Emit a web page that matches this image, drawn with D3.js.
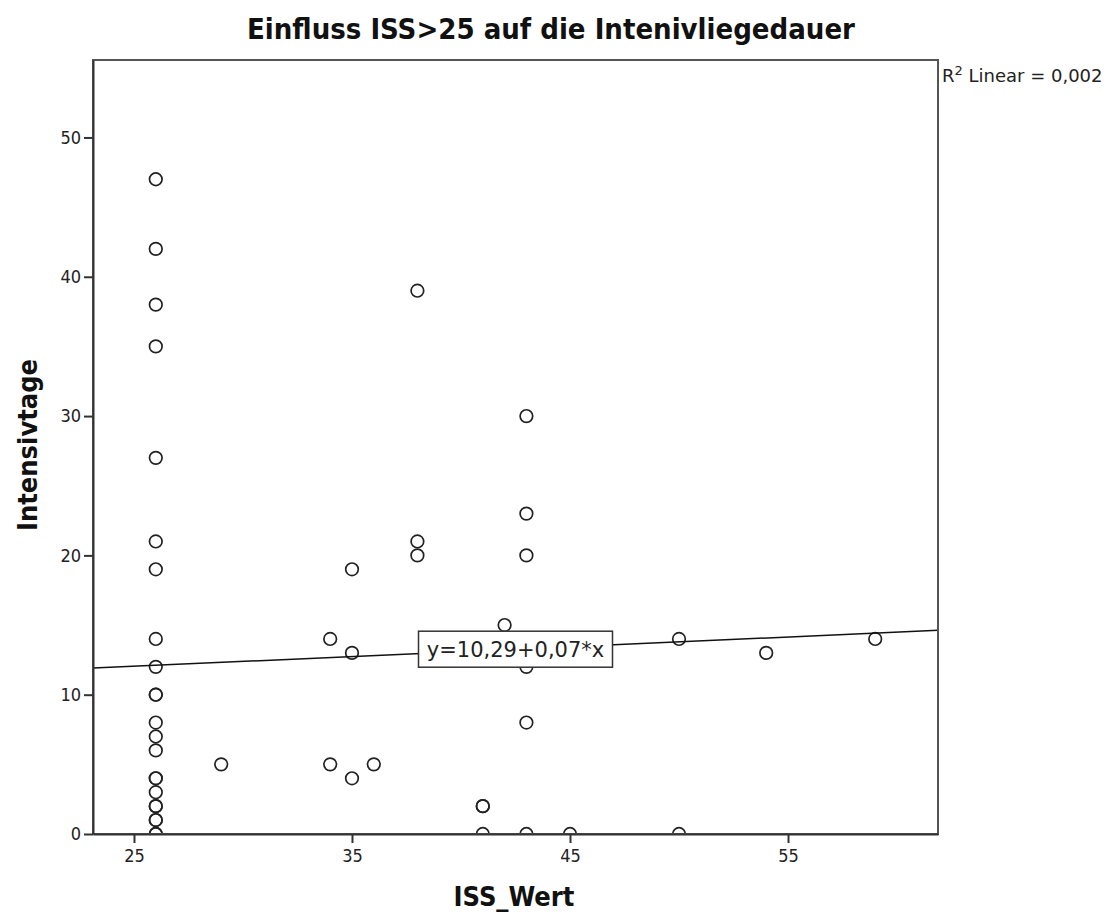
<!DOCTYPE html>
<html>
<head>
<meta charset="utf-8">
<script src="https://cdn.jsdelivr.net/npm/d3@7"></script>
<style>
  body { margin: 0; background: #fff; }
  svg { display: block; font-family: "Liberation Sans Narrow", "DejaVu Sans Condensed", "DejaVu Sans", sans-serif; }
</style>
</head>
<body>
<svg id="chart" width="1118" height="917"></svg>
<script>
// ISS value and ICU days, one entry per patient
const issValues = [
  26, 26, 26, 26, 26, 26, 26, 26, 26, 26, 26, 26, 26, 26, 26, 26, 26, 26, 26, 26, 26, 26, 26,
  29, 34, 34, 35, 35, 35, 36, 38, 38, 38, 41, 41, 41, 42,
  43, 43, 43, 43, 43, 43, 45, 50, 50, 54, 59
];
const icuDays = [
  47, 42, 38, 35, 27, 21, 19, 14, 12, 10, 10, 8, 7, 6, 4, 4, 3, 2, 2, 1, 1, 0, 0,
  5, 14, 5, 19, 13, 4, 5, 39, 21, 20, 2, 2, 0, 15,
  30, 23, 20, 12, 8, 0, 0, 14, 0, 13, 14
];
const xTicks = [25, 35, 45, 55];
const yTicks = [0, 10, 20, 30, 40, 50];
const fitIntercept = 10.29;
const fitSlope = 0.07;
const fitLabel = "y=10,29+0,07*x";
const r2Label = "0,002";

(() => {
  const svg = d3.select("#chart");
  const m = { left: 93, right: 938, top: 60, bottom: 834 };
  const narrow = "'Liberation Sans Narrow', 'DejaVu Sans Condensed', 'DejaVu Sans', sans-serif";
  const plain = "'DejaVu Sans', sans-serif";

  const x = d3.scaleLinear().domain([23.12, 61.88]).range([m.left, m.right]);
  const y = d3.scaleLinear().domain([0, 55.56]).range([m.bottom, m.top]);

  svg.append("defs").append("clipPath").attr("id", "plot-clip")
    .append("rect").attr("x", m.left).attr("y", m.top).attr("width", m.right - m.left).attr("height", m.bottom - m.top);

  const plot = svg.append("g").attr("clip-path", "url(#plot-clip)");

  const points = issValues.map((v, i) => ({ x: v, y: icuDays[i] }));
  plot.selectAll("circle").data(points).enter().append("circle")
    .attr("cx", (d) => x(d.x))
    .attr("cy", (d) => y(d.y))
    .attr("r", 6.3)
    .attr("fill", "none")
    .attr("stroke", "#222")
    .attr("stroke-width", 1.7);

  const [x0, x1] = x.domain();
  plot.append("line")
    .attr("x1", x(x0)).attr("y1", y(fitIntercept + fitSlope * x0))
    .attr("x2", x(x1)).attr("y2", y(fitIntercept + fitSlope * x1))
    .attr("stroke", "#111").attr("stroke-width", 1.5);

  // equation label at the middle of the fit line
  const xm = (x0 + x1) / 2;
  const lx = x(xm), ly = y(fitIntercept + fitSlope * xm);
  const label = svg.append("g").attr("transform", `translate(${lx},${ly})`);
  label.append("rect").attr("x", -97).attr("y", -18).attr("width", 194).attr("height", 36)
    .attr("fill", "#fff").attr("stroke", "#333").attr("stroke-width", 1.5);
  label.append("text").attr("text-anchor", "middle").attr("dy", "0.36em")
    .attr("font-family", plain).attr("font-size", 21).attr("fill", "#222").text(fitLabel);

  // frame
  svg.append("rect").attr("x", m.left).attr("y", m.top).attr("width", m.right - m.left).attr("height", m.bottom - m.top)
    .attr("fill", "none").attr("stroke", "#555").attr("stroke-width", 2);

  const xAxis = svg.append("g").attr("transform", `translate(0,${m.bottom})`)
    .call(d3.axisBottom(x).tickValues(xTicks).tickSize(9).tickSizeOuter(0).tickPadding(6));
  const yAxis = svg.append("g").attr("transform", `translate(${m.left},0)`)
    .call(d3.axisLeft(y).tickValues(yTicks).tickSize(9).tickSizeOuter(0).tickPadding(3));
  [xAxis, yAxis].forEach((a) => {
    a.attr("font-family", narrow).attr("font-size", 18);
    a.select(".domain").attr("stroke", "#333").attr("stroke-width", 2);
    a.selectAll(".tick line").attr("stroke", "#333").attr("stroke-width", 2);
    a.selectAll(".tick text").attr("fill", "#222");
  });

  svg.append("text").attr("x", 551).attr("y", 39).attr("text-anchor", "middle")
    .attr("font-size", 29).attr("font-weight", "bold").attr("fill", "#111")
    .text("Einfluss ISS>25 auf die Intenivliegedauer");

  svg.append("text").attr("x", 514).attr("y", 906).attr("text-anchor", "middle")
    .attr("font-size", 27).attr("font-weight", "bold").attr("fill", "#111").text("ISS_Wert");

  svg.append("text").attr("transform", "translate(37,445) rotate(-90)").attr("text-anchor", "middle")
    .attr("font-size", 27).attr("font-weight", "bold").attr("fill", "#111").text("Intensivtage");

  const r2 = svg.append("text").attr("x", 942).attr("y", 82)
    .attr("font-family", plain).attr("font-size", 18).attr("fill", "#222");
  r2.append("tspan").text("R");
  r2.append("tspan").attr("dy", -7).attr("font-size", 13).text("2");
  r2.append("tspan").attr("dy", 7).text(` Linear = ${r2Label}`);
})();
</script>
</body>
</html>
